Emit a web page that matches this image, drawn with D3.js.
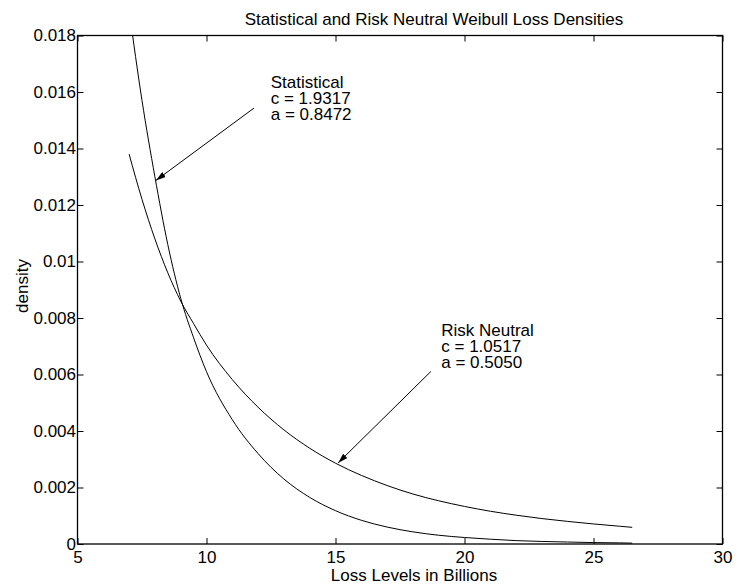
<!DOCTYPE html>
<html>
<head>
<meta charset="utf-8">
<script src="https://cdn.jsdelivr.net/npm/d3@7.9.0/dist/d3.min.js"></script>
<style>
  html, body { margin: 0; padding: 0; background: #fff; }
  svg { display: block; font-family: "Liberation Sans", Arial, Helvetica, sans-serif; }
  text { fill: #000; }
</style>
</head>
<body>
<div id="chart"></div>
<script>
// values
const lossLevels = [7, 7.5, 8, 8.5, 9, 9.5, 10, 11, 12, 13, 14, 15, 16, 17, 18, 19, 20, 21, 22, 23, 24, 25, 26, 26.5];
const statisticalDensity = [0.0189, 0.0157, 0.0130, 0.0106, 0.0087, 0.0073, 0.0061, 0.0044, 0.0032, 0.0023, 0.00165, 0.00118,
  0.00084, 0.0006, 0.00043, 0.00031, 0.00023, 0.00017, 0.00012, 0.00009, 0.00007, 0.00005, 0.00004, 0.00003];
const riskNeutralDensity = [0.0138, 0.0122, 0.0108, 0.0096, 0.0086, 0.0078, 0.00704, 0.00582, 0.00484, 0.00404, 0.00339, 0.00286,
  0.00243, 0.00207, 0.00177, 0.00153, 0.00133, 0.00116, 0.00102, 0.0009, 0.0008, 0.00071, 0.00063, 0.00059];

const xTicks = [5, 10, 15, 20, 25, 30];
const yTicks = [0, 0.002, 0.004, 0.006, 0.008, 0.01, 0.012, 0.014, 0.016, 0.018];

const titleText = 'Statistical and Risk Neutral Weibull Loss Densities';
const xLabel = 'Loss Levels in Billions';
const yLabel = 'density';

// annotation text + arrow (text corner, arrow tail, arrow head in data units)
const annotations = [
  { lines: ['Statistical', 'c = 1.9317', 'a = 0.8472'], at: [12.49, 0.01614], from: [11.84, 0.01543], to: [8.04, 0.01287] },
  { lines: ['Risk Neutral', 'c = 1.0517', 'a = 0.5050'], at: [19.1, 0.00736], from: [18.7, 0.00611], to: [15.1, 0.00287] }
];

const width = 738;
const height = 588;
const margin = { top: 35.5, right: 15.5, bottom: 44, left: 77.5 };
const usable = {
  left: margin.left,
  right: width - margin.right,
  top: margin.top,
  bottom: height - margin.bottom,
};

const svg = d3.select('#chart')
  .append('svg')
    .attr('width', width)
    .attr('height', height);

const xScale = d3.scaleLinear()
  .domain([5, 30])
  .range([usable.left, usable.right]);

const yScale = d3.scaleLinear()
  .domain([0, 0.018])
  .range([usable.bottom, usable.top]);

const defs = svg.append('defs');

defs.append('clipPath')
    .attr('id', 'plot-clip')
  .append('rect')
    .attr('x', usable.left)
    .attr('y', usable.top)
    .attr('width', usable.right - usable.left)
    .attr('height', usable.bottom - usable.top);

defs.append('marker')
    .attr('id', 'arrowhead')
    .attr('viewBox', '0 0 10 6')
    .attr('refX', 10)
    .attr('refY', 3)
    .attr('markerWidth', 10)
    .attr('markerHeight', 6)
    .attr('markerUnits', 'userSpaceOnUse')
    .attr('orient', 'auto')
  .append('path')
    .attr('d', 'M0,0 L10,3 L0,6 Z')
    .attr('fill', '#000');

// axes: ticks point inward on all four sides, MATLAB style
const tickLen = 6;
const fontSize = 17;

svg.append('g')
  .attr('transform', `translate(0,${usable.bottom})`)
  .call(d3.axisBottom(xScale).tickValues(xTicks).tickSize(-tickLen).tickFormat(d3.format('d')))
  .call(g => g.select('.domain').remove())
  .call(g => g.selectAll('text')
    .attr('font-size', fontSize)
    .attr('font-family', null)
    .attr('dy', null)
    .attr('y', 18.5));

svg.append('g')
  .attr('transform', `translate(0,${usable.top})`)
  .call(d3.axisTop(xScale).tickValues(xTicks).tickSize(-tickLen).tickFormat(''))
  .call(g => g.select('.domain').remove());

svg.append('g')
  .attr('transform', `translate(${usable.left},0)`)
  .call(d3.axisLeft(yScale).tickValues(yTicks).tickSize(-tickLen).tickPadding(0).tickFormat(d => d === 0 ? '0' : String(+d.toFixed(3))))
  .call(g => g.select('.domain').remove())
  .call(g => g.selectAll('text').attr('font-size', fontSize).attr('font-family', null).attr('x', -1.5));

svg.append('g')
  .attr('transform', `translate(${usable.right},0)`)
  .call(d3.axisRight(yScale).tickValues(yTicks).tickSize(-tickLen).tickFormat(''))
  .call(g => g.select('.domain').remove());

svg.selectAll('.tick line').attr('stroke', '#000');

svg.append('rect')
  .attr('x', usable.left)
  .attr('y', usable.top)
  .attr('width', usable.right - usable.left)
  .attr('height', usable.bottom - usable.top)
  .attr('fill', 'none')
  .attr('stroke', '#000')
  .attr('stroke-width', 1.3);

// curves
const line = d3.line()
  .x(d => xScale(d[0]))
  .y(d => yScale(d[1]))
  .curve(d3.curveMonotoneX);

const series = [
  d3.zip(lossLevels, statisticalDensity),
  d3.zip(lossLevels, riskNeutralDensity)
];

svg.append('g')
  .attr('clip-path', 'url(#plot-clip)')
  .selectAll('path')
  .data(series)
  .join('path')
    .attr('d', line)
    .attr('fill', 'none')
    .attr('stroke', '#000')
    .attr('stroke-width', 1);

// annotations
const notes = svg.append('g');
annotations.forEach(a => {
  notes.append('line')
    .attr('x1', xScale(a.from[0]))
    .attr('y1', yScale(a.from[1]))
    .attr('x2', xScale(a.to[0]))
    .attr('y2', yScale(a.to[1]))
    .attr('stroke', '#000')
    .attr('stroke-width', 1)
    .attr('marker-end', 'url(#arrowhead)');

  notes.append('text')
    .attr('font-size', fontSize)
    .selectAll('tspan')
    .data(a.lines)
    .join('tspan')
      .attr('x', xScale(a.at[0]))
      .attr('y', (d, i) => yScale(a.at[1]) + i * 16)
      .text(d => d);
});

// titles
svg.append('text')
  .attr('x', 434)
  .attr('y', 25)
  .attr('text-anchor', 'middle')
  .attr('font-size', fontSize)
  .text(titleText);

svg.append('text')
  .attr('x', 414)
  .attr('y', 581)
  .attr('text-anchor', 'middle')
  .attr('font-size', fontSize)
  .text(xLabel);

svg.append('text')
  .attr('transform', 'translate(28,286) rotate(-90)')
  .attr('text-anchor', 'middle')
  .attr('font-size', fontSize)
  .text(yLabel);
</script>
</body>
</html>
